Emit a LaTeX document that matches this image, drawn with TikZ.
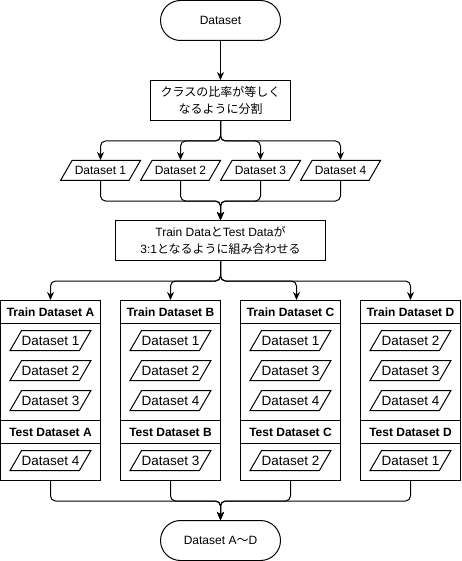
\documentclass[tikz,border=0pt]{standalone}
\usepackage{fontspec}
\setmainfont{Liberation Sans}
\newfontfamily\jpfont{Noto Sans CJK JP}
\newcommand{\ja}[1]{{\jpfont #1}}
\usetikzlibrary{shapes.geometric,arrows.meta}

\begin{document}
\begin{tikzpicture}[x=1pt,y=-1pt,line width=1pt,
        font=\fontsize{12}{17}\selectfont,
        term/.style={draw,rounded corners=20pt,minimum width=120pt,minimum height=40pt},
        proc/.style={draw,align=center,minimum height=40pt,inner sep=2pt},
        data/.style={draw,trapezium,trapezium left angle=60,trapezium right angle=120,
            trapezium stretches body,minimum width=80pt,text height=9pt,text depth=0pt,
            inner ysep=5.5pt,inner xsep=0pt},
        item/.style={data,font=\fontsize{13.5}{15}\selectfont},
        group/.style={draw,minimum width=100pt,minimum height=180pt,inner sep=0pt},
        head/.style={font=\fontsize{12}{14}\selectfont\bfseries},
        arr/.style={-{Stealth[length=8pt,width=7pt,inset=2.5pt]},rounded corners=5pt}]
    \useasboundingbox (-0.5,-0.5) rectangle (460.5,560.5);

    \node[term] (src) at (220,20) {Dataset};
    \node[proc,minimum width=140pt] (split) at (220,100)
        {\ja{クラスの比率が等しく}\\\ja{なるように分割}};
    \foreach \i/\x in {1/100,2/180,3/260,4/340}
        \node[data] (d\i) at (\x,170) {Dataset \i};
    \node[proc,minimum width=210pt] (mix) at (220,240)
        {Train Data\ja{と}Test Data\ja{が}\\3:1\ja{となるように組み合わせる}};

    % train / test groups
    \foreach \g/\x/\a/\b/\c/\t in {A/50/1/2/3/4,B/170/1/2/4/3,C/290/1/3/4/2,D/410/2/3/4/1} {
        \node[group] (g\g) at (\x,390) {};
        \node[head] (tr\g) at (\x,311.5) {Train Dataset \g};
        \draw ([yshift=-23pt]g\g.north west) -- ([yshift=-23pt]g\g.north east);
        \node[item] (tr\g1) at (\x,340) {Dataset \a};
        \node[item] (tr\g2) at (\x,370) {Dataset \b};
        \node[item] (tr\g3) at (\x,400) {Dataset \c};
        \draw ([yshift=-120pt]g\g.north west) -- ([yshift=-120pt]g\g.north east);
        \node[head] (te\g) at (\x,431.5) {Test Dataset \g};
        \draw ([yshift=-143pt]g\g.north west) -- ([yshift=-143pt]g\g.north east);
        \node[item] (te\g1) at (\x,460) {Dataset \t};
    }

    \node[term] (out) at (220,540) {Dataset A\ja{〜}D};

    \draw[arr] (src) -- (split);
    \foreach \i in {1,...,4}
        \draw[arr] (split.south) -- ++(0,20) -| (d\i.north);
    \foreach \i in {1,...,4}
        \draw[arr] (d\i.south) -- ++(0,20) -| (mix.north);
    \foreach \g in {A,B,D}
        \draw[arr] (mix.south) -- ++(0,20) -| (g\g.north);
    \draw[arr] (mix.south) -- ++(0,20) -| ([xshift=6pt]gC.north);
    \foreach \g in {A,...,D}
        \draw[arr] (g\g.south) -- ++(0,20) -| (out.north);
\end{tikzpicture}
\end{document}
